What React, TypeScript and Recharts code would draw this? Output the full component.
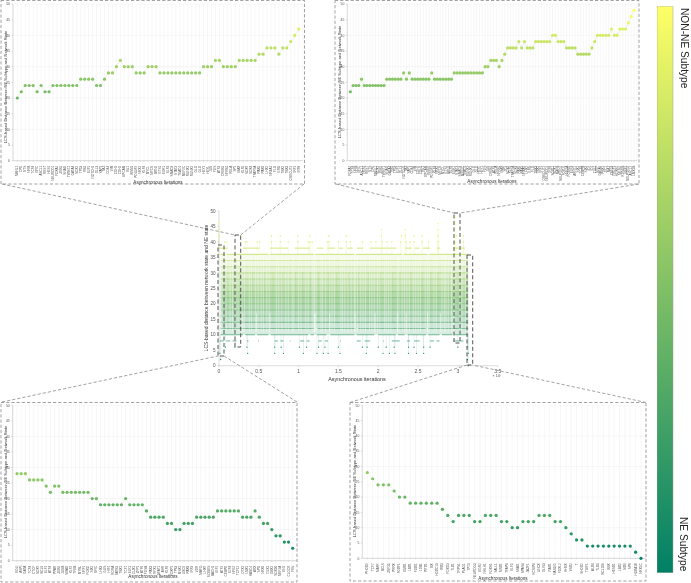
import React from "react";
import {
  LineChart, Line, XAxis, YAxis, CartesianGrid, ComposedChart, Scatter,
  ReferenceLine, ReferenceArea, BarChart, Bar,
} from "recharts";

const FONT = "'Liberation Sans', Arial, sans-serif";

// ---------- panel data ----------
const topLeftLabels = `MBNL1 CPE NTS NFIB TCF4 MYC ASCL1 REST HES1 NEUROD1
FOXA2 ZEB1 SNAI2 TWIST1 GATA4 SOX2 TP53 RB1 E2F1 NOTCH1
DLL3 YAP1 TAZ CD44 VIM CDH1 CDH2 EPCAM ISL1 INSM1
POU3F2 NKX2 KLF4 MYCL MYCN BRN2 ETS1 EGR1 ELF3 SMAD3
STAT3 TEAD1 MEF2C RUNX1 RUNX2 GLI1 GLI2 HEY1 HEYL JUN
FOS ATF3 CREB1 NFKB1 RELA SP1 MAX KLF5 SOX9 SOX4
TFAP2A PAX5 PAX6 LHX2 NR4A1 FLI1 ERG TBX2 TBX3 ONECUT2
IRF1 IRF8`.split(/\s+/);
const topLeftValues = [
  20, 22, 24, 24, 24, 22, 24, 22, 22, 24,
  24, 24, 24, 24, 24, 24, 26, 26, 26, 26,
  24, 24, 26, 28, 28, 30, 32, 30, 30, 30,
  28, 28, 28, 30, 30, 30, 28, 28, 28, 28,
  28, 28, 28, 28, 28, 28, 28, 30, 30, 30,
  32, 32, 30, 30, 30, 30, 32, 32, 32, 32,
  32, 34, 34, 36, 36, 36, 34, 36, 36, 38,
  40, 42,
];

const topRightLabels = `FOXA2 TCF4 NFIB MYC ASCL1 HES1 REST NTS CPE MBNL1
SOX2 ZEB1 TWIST1 SNAI2 GATA4 RB1 TP53 E2F1 DLL3 NOTCH1
TAZ YAP1 CD44 VIM CDH2 CDH1 ISL1 EPCAM INSM1 POU3F2
KLF4 NKX2 MYCN MYCL ETS1 BRN2 ELF3 EGR1 STAT3 SMAD3
MEF2C TEAD1 RUNX2 RUNX1 GLI2 GLI1 HEYL HEY1 FOS JUN
CREB1 ATF3 RELA NFKB1 MAX SP1 SOX9 KLF5 TFAP2A SOX4
PAX6 PAX5 NR4A1 LHX2 ERG FLI1 TBX3 TBX2 IRF1 ONECUT2
NEUROD1 IRF8 SOX11 SOX1 MAFB NEUROG1 FOXJ1 HNF1A FOXM1 ELK4
ARNT2 SIX1 TCF3 CEBPB SIX3 ID2 ID1 TLE1 MITF GATA6
PBX1 ZIC2 MAZ ZNF24 NR2F1 HOXB7 MEIS2 KDM5B EBF1 NEUROG2
ASCL2 LMX1B`.split(/\s+/);
const topRightValues = [
  22, 24, 24, 24, 26, 24, 24, 24, 24, 24,
  24, 24, 24, 26, 26, 26, 26, 26, 26, 28,
  26, 28, 26, 26, 26, 26, 26, 26, 26, 28,
  26, 26, 26, 26, 26, 26, 26, 28, 28, 28,
  28, 28, 28, 28, 28, 28, 28, 28, 30, 30,
  32, 32, 32, 30, 32, 34, 36, 36, 36, 36,
  38, 36, 38, 36, 36, 36, 38, 38, 38, 38,
  38, 38, 40, 40, 38, 38, 38, 36, 36, 36,
  36, 34, 34, 34, 34, 34, 36, 38, 40, 40,
  40, 40, 40, 42, 40, 40, 42, 42, 42, 44,
  46, 48,
];

const bottomLeftLabels = `EGLI ASPI GATA TCF4 CTCF SOX9 BCL6 ELF1 ATF4 PPAR
ZEB2 JUNB SMAD KLF2 TFEB MYBL NRF1 FOXO SIX2 NFIC
LHX3 GLIS HIF1 RORA SATB1 TBX1 TCF7 ELK1 CUX1 ZFP1
ATF6 FOSB PAX3 RFX1 NFAT1 AHR KLF6 FOXP1 TP63 MSX1
LMO2 PAX8 IRF3 VDR MAFG LHX9 EOMES BACH1 LEF1 ATF2
CEBPD E2F4 NFE2 TCF12 OTX2 LMX1 HAND1 ARX SPI1 NKX6
DLX1 GBX2 SOX10 MEF2A EN1 CLOCK FEV`.split(/\s+/);
const bottomLeftValues = [
  28, 28, 28, 26, 26, 26, 26, 24, 22, 24,
  24, 22, 22, 22, 22, 22, 22, 22, 20, 20,
  18, 18, 18, 18, 18, 18, 20, 18, 18, 18,
  18, 16, 14, 14, 14, 14, 12, 12, 10, 10,
  12, 12, 12, 14, 14, 14, 14, 14, 16, 16,
  16, 16, 16, 16, 14, 14, 14, 16, 14, 12,
  12, 10, 8, 8, 6, 6, 4,
];

const bottomRightLabels = `PHOX2 TCF7 MAFK BCL6 ZNF35 PRRX FOXF1 EMX1 LBX1 FOXI1
LDB1 PITX1 ISX HOXC13 IRX3 FOXD3 TLX1 TRPS1 PLAG1 TP73
NEUROG3 EGR2 NHLH1 FOXH1 SALL1 MNX1 TFAP4 ELF5 SNAI1 NPAS4
JAZF1 KCNIP4 UNCX GLIS3 RAX1 NANOG FOXL2 HHEX VSX2 T
SHOX2 TGIF1 ALX4 TLX3 BCL11B BSX HESX1 LBX2 SIX6 SP8
HOXA10 NKX2C`.split(/\s+/);
const bottomRightValues = [
  28, 26, 24, 24, 24, 22, 20, 20, 18, 18,
  18, 18, 18, 18, 16, 14, 12, 14, 14, 14,
  12, 12, 14, 14, 14, 12, 12, 10, 10, 12,
  12, 12, 14, 14, 14, 12, 12, 10, 8, 6,
  6, 4, 4, 4, 4, 4, 4, 4, 4, 4,
  2, 0,
];

// ---------- centre chart data (x in units of 10^7 iterations) ----------
const centreXTicks = [0, 0.5, 1, 1.5, 2, 2.5, 3, 3.5];
const distanceTicks = [0, 5, 10, 15, 20, 25, 30, 35, 40, 45, 50];
const bandLevels = [10, 12, 14, 16, 18, 20, 22, 24, 26, 28, 30, 32, 34];
const fullRows = [14, 16, 18, 20, 22, 24, 26, 28, 30, 32, 34];
const rowRuns36 = [[0.02, 0.08], [0.1, 0.62], [0.64, 1.19], [1.21, 1.7], [1.72, 2.3], [2.32, 2.62], [2.64, 3.13]];
const rowRuns38 = [[0, 0.11], [0.3, 0.51], [0.64, 0.87], [0.95, 1.14], [1.23, 1.31], [1.36, 1.46], [1.5, 1.56], [1.61, 1.68], [1.73, 1.81], [1.9, 2.23], [2.34, 2.42], [2.46, 2.52], [2.56, 2.65], [2.74, 2.78], [2.94, 3.09]];
const rowRuns12 = [[0.02, 1.2], [1.24, 1.72], [1.75, 2.6], [2.63, 3.13]];
const rowRuns10 = [[0.02, 0.3], [0.33, 0.45], [0.48, 0.62], [0.65, 1.12], [1.15, 1.19], [1.23, 1.35], [1.4, 1.7], [1.73, 1.95], [2.0, 2.22], [2.25, 2.33], [2.37, 2.6], [2.63, 2.77], [2.8, 2.93], [2.96, 3.13]];
const rowRuns8 = [[0.01, 0.06], [0.09, 0.14], [0.17, 0.22], [0.35, 0.37], [0.49, 0.5], [0.7, 0.74], [0.77, 0.81], [0.89, 0.9], [1.02, 1.07], [1.1, 1.14], [1.25, 1.29], [1.33, 1.37], [1.52, 1.53], [1.73, 1.78], [1.83, 1.9], [2.06, 2.07], [2.17, 2.27], [2.36, 2.4], [2.45, 2.52], [2.65, 2.7], [2.73, 2.77], [2.94, 3.07]];
const points48 = [2.97];
const points46 = [0, 2.75, 2.96];
const points44 = [0, 2.04, 2.34, 2.75];
const points42 = [0, 0.27, 0.66, 0.77, 0.99, 1.14, 1.38, 1.6, 2.04, 2.29, 2.34, 2.45, 2.55, 2.75, 2.98, 3.07];
const points40 = [0.07, 0.1, 0.33, 0.35, 0.48, 0.51, 0.66, 0.77, 0.87, 0.99, 1.12, 1.14, 1.17, 1.36, 1.38, 1.5, 1.6, 1.65, 1.8, 1.91, 1.97, 2.05, 2.11, 2.17, 2.28, 2.35, 2.4, 2.45, 2.55, 2.63, 2.75, 2.96, 3.07];
const points6 = [0.08, 0.2, 0.35, 0.7, 0.78, 1.01, 1.1, 1.25, 1.33, 1.5, 1.8, 1.86, 2.0, 2.1, 2.2, 2.38, 2.45, 2.57, 2.65, 3.0, 3.12];
const points4 = [0.01, 0.36, 0.7, 0.81, 1.06, 1.23, 1.31, 1.37, 1.52, 1.85, 2.06, 2.14, 2.21, 2.38, 2.48, 2.57, 3.13];
const points2 = [0.02, 3.12];
const points0 = [3.13];
const paleStreaks = [
  0.03, 0.05, 0.09, 0.14, 0.17, 0.21, 0.24, 0.29, 0.32, 0.38, 0.41, 0.46, 0.49, 0.53, 0.56, 0.6, 0.63,
  0.72, 0.75, 0.79, 0.84, 0.87, 0.92, 0.94, 1.0, 1.03, 1.09, 1.12, 1.17, 1.19, 1.2, 1.22, 1.28, 1.3, 1.34,
  1.39, 1.42, 1.45, 1.53, 1.55, 1.58, 1.62, 1.66, 1.7, 1.71, 1.74, 1.78, 1.81, 1.84, 1.89, 1.92, 1.95, 1.99,
  2.02, 2.08, 2.1, 2.13, 2.16, 2.24, 2.26, 2.3, 2.33, 2.36, 2.39, 2.44, 2.47, 2.5, 2.53, 2.59, 2.62, 2.64,
  2.7, 2.73, 2.8, 2.83, 2.85, 2.88, 2.92, 2.95, 3.02, 3.05, 3.1,
];
const clearGaps = [0.3, 0.47, 0.64, 1.2, 1.21, 1.39, 1.71, 1.96, 2.24, 2.35, 2.62, 2.78, 2.94];
const denseStreaks = [0.1, 0.25, 0.42, 0.57, 0.68, 0.8, 0.96, 1.05, 1.15, 1.25, 1.38, 1.48, 1.63, 1.75, 1.88, 2.03, 2.18, 2.27, 2.41, 2.55, 2.66, 2.75, 2.89, 3.0];

const colourStops = { top: "#FFFF66", bottom: "#008066" };
function summer(v: number) {
  const t = Math.max(0, Math.min(1, v / 48));
  return `rgb(${Math.round(255 * t)},${Math.round(128 + 127 * t)},102)`;
}

const rows = [
  ...fullRows.map((v) => ({ v, runs: [[0.02, 3.13]] })),
  { v: 36, runs: rowRuns36 }, { v: 38, runs: rowRuns38 },
  { v: 12, runs: rowRuns12 }, { v: 10, runs: rowRuns10 }, { v: 8, runs: rowRuns8 },
];
const upper = [
  { v: 48, xs: points48 }, { v: 46, xs: points46 }, { v: 44, xs: points44 },
  { v: 42, xs: points42 }, { v: 40, xs: points40 },
];
const lower = [{ v: 6, xs: points6 }, { v: 4, xs: points4 }, { v: 2, xs: points2 }, { v: 0, xs: points0 }];
const scatterData = [...upper, ...lower].flatMap((g) => g.xs.map((x) => ({ x, y: g.v })));

// ---------- geometry ----------
type Geo = { l: number; t: number; w: number; h: number; pl: number; pr: number; pt: number; pb: number; pad: number };
const tlGeo: Geo = { l: 0, t: 0, w: 305, h: 186, pl: 13, pr: 303, pt: 4, pb: 160.7, pad: 4.3 };
const trGeo: Geo = { l: 335, t: 0, w: 305, h: 186, pl: 347.3, pr: 637, pt: 4, pb: 160.7, pad: 3 };
const blGeo: Geo = { l: 0, t: 402, w: 298, h: 180, pl: 12.7, pr: 297, pt: 405.3, pb: 560.7, pad: 4.3 };
const brGeo: Geo = { l: 350, t: 402, w: 296, h: 180, pl: 362.3, pr: 646, pt: 405.3, pb: 558.3, pad: 5 };

const boxes = [
  { x: 1, y: 0.5, w: 303.5, h: 183.5 },
  { x: 335, y: 0.5, w: 304, h: 183.5 },
  { x: 1, y: 402.5, w: 296, h: 179.5 },
  { x: 350, y: 402.5, w: 296, h: 178.5 },
];
const marks = [
  { x: 218, y: 245, w: 6, h: 111 },
  { x: 235, y: 235, w: 5.7, h: 112 },
  { x: 454, y: 213, w: 6, h: 130 },
  { x: 467, y: 255, w: 5.7, h: 110 },
];
const connectors = [
  [2, 184, 235, 235], [304, 184, 240.7, 235],
  [336, 184, 454, 213], [639, 184, 460, 213],
  [2, 402, 218, 356], [297, 402, 224, 356],
  [350, 402.5, 467, 365], [646, 402.5, 472.7, 365],
];

const distanceTitle = "LCS-based Distance Between NE Subtype and Network State";
const iterationTitle = "Asynchronous Iterations";
const panelTitles = [
  { xt: 158, yt: 183.5, xl: 6.5, yl: 87 },
  { xt: 492, yt: 183, xl: 341, yl: 82 },
  { xt: 153, yt: 578, xl: 6.5, yl: 482 },
  { xt: 503, yt: 580, xl: 356, yl: 481 },
];

function Panel({ geo, labels, values }: any) {
  const data = labels.map((label: string, i: number) => ({ label, value: values[i] }));
  const tick = ({ x, y, payload }: any) => (
    <text x={x} y={y + 2} transform={`rotate(-90 ${x} ${y + 2})`} textAnchor="end" dominantBaseline="central"
      fontSize={3.1} fill="#555" fontFamily={FONT}>{payload.value}</text>
  );
  const dot = (p: any) => (
    <circle key={p.index} cx={p.cx} cy={p.cy} r={1.6} fill={summer(p.payload.value)} />
  );
  return (
    <div style={{ position: "absolute", left: geo.l, top: geo.t }}>
      <LineChart width={geo.w} height={geo.h} data={data}
        margin={{ top: geo.pt - geo.t, right: geo.l + geo.w - geo.pr, bottom: 0, left: 0 }}>
        <CartesianGrid stroke="#eeeeee" strokeWidth={0.5} />
        <XAxis dataKey="label" interval={0} tick={tick} tickSize={1} stroke="#bbb" strokeWidth={0.5}
          padding={{ left: geo.pad, right: geo.pad }} height={geo.t + geo.h - geo.pb} />
        <YAxis domain={[0, 50]} ticks={distanceTicks} width={geo.pl - geo.l} tickSize={1.5} stroke="#bbb" strokeWidth={0.5}
          tick={{ fontSize: 3.4, fill: "#555", fontFamily: FONT, dx: 0.5 }} />
        <Line dataKey="value" stroke="#9ccf7c" strokeOpacity={0.4} strokeWidth={0.5} dot={dot} isAnimationActive={false} />
      </LineChart>
    </div>
  );
}

function Centre() {
  const L = 200, T = 205, W = 305, H = 180;
  const pl = 219, pr = 497.7, pt = 211, pb = 365.7;
  const dotShape = (p: any) => <circle cx={p.cx} cy={p.cy} r={0.65} fill={summer(p.payload.y)} />;
  return (
    <div style={{ position: "absolute", left: L, top: T }}>
      <ComposedChart width={W} height={H} data={scatterData}
        margin={{ top: pt - T, right: L + W - pr, bottom: 0, left: 0 }}>
        <XAxis type="number" dataKey="x" domain={[0, 3.5]} ticks={centreXTicks} tickSize={1.5} stroke="#bbb" strokeWidth={0.5}
          height={T + H - pb} tick={{ fontSize: 5, fill: "#555", fontFamily: FONT }} />
        <YAxis type="number" dataKey="y" domain={[0, 50]} ticks={distanceTicks} width={pl - L} tickSize={1.5} stroke="#bbb" strokeWidth={0.5}
          tick={{ fontSize: 4.6, fill: "#555", fontFamily: FONT }} />
        {bandLevels.map((v) => (
          <ReferenceArea key={v} x1={0.02} x2={3.13} y1={v} y2={v + 2} fill={summer(v + 1)} stroke="none"
            fillOpacity={0.1 + 0.5 * Math.max(0, 1 - Math.abs(v + 1 - 22) / 14)} />
        ))}
        {denseStreaks.map((x) => (
          <ReferenceLine key={"d" + x} segment={[{ x, y: 14 }, { x, y: 30 }]} stroke="#7cc068" strokeOpacity={0.2} strokeWidth={0.8} />
        ))}
        {upper.flatMap((g) => g.xs.map((x, i) => (
          <ReferenceLine key={`u${g.v}-${i}`} segment={[{ x, y: 36 }, { x, y: g.v }]} stroke={summer(g.v)} strokeOpacity={0.22} strokeWidth={0.7} />
        )))}
        {lower.flatMap((g) => g.xs.map((x, i) => (
          <ReferenceLine key={`l${g.v}-${i}`} segment={[{ x, y: 10 }, { x, y: g.v }]} stroke={summer(g.v)} strokeOpacity={0.18} strokeWidth={0.6} />
        )))}
        {rows.flatMap((r) => r.runs.map((run, i) => (
          <ReferenceLine key={`r${r.v}-${i}`} segment={[{ x: run[0], y: r.v }, { x: run[1], y: r.v }]}
            stroke={summer(r.v)} strokeOpacity={r.v < 12 ? 0.75 : r.v > 35 ? 0.95 : 0.6} strokeWidth={r.v > 35 || r.v < 12 ? 0.9 : 1.05} />
        )))}
        {paleStreaks.map((x) => (
          <ReferenceLine key={"p" + x} segment={[{ x, y: 10.8 }, { x, y: 35.5 }]} stroke="#fff" strokeOpacity={0.42} strokeWidth={0.9} />
        ))}
        {clearGaps.map((x) => (
          <ReferenceLine key={"g" + x} segment={[{ x, y: 10.8 }, { x, y: 17 }]} stroke="#fff" strokeOpacity={0.5} strokeWidth={1} />
        ))}
        <Scatter dataKey="y" shape={dotShape} isAnimationActive={false} />
      </ComposedChart>
    </div>
  );
}

function ColourBar() {
  return (
    <div style={{ position: "absolute", left: 657.3, top: 6 }}>
      <BarChart width={16.4} height={567} data={[{ name: "subtype", extent: 48 }]} margin={{ top: 0, right: 0, bottom: 0, left: 0 }} barCategoryGap={0}>
        <defs>
          <linearGradient id="summerGrad" x1="0" y1="0" x2="0" y2="1">
            <stop offset="0%" stopColor={colourStops.top} />
            <stop offset="100%" stopColor={colourStops.bottom} />
          </linearGradient>
        </defs>
        <XAxis dataKey="name" hide />
        <YAxis domain={[0, 48]} hide />
        <Bar dataKey="extent" fill="url(#summerGrad)" stroke="#a0a090" strokeWidth={0.5} isAnimationActive={false} />
      </BarChart>
    </div>
  );
}

function Overlay() {
  const dash = { fill: "none", stroke: "#8a8a8a", strokeWidth: 0.8, strokeDasharray: "3.2 2" };
  return (
    <svg width={691} height={583} style={{ position: "absolute", left: 0, top: 0, pointerEvents: "none" }}>
      {boxes.map((b, i) => <rect key={i} x={b.x} y={b.y} width={b.w} height={b.h} {...dash} />)}
      {connectors.map((c, i) => <line key={i} x1={c[0]} y1={c[1]} x2={c[2]} y2={c[3]} {...dash} />)}
      {marks.map((m, i) => (
        <rect key={i} x={m.x} y={m.y} width={m.w} height={m.h} fill="none" stroke="#555" strokeWidth={1} strokeDasharray="4 2.5" />
      ))}
      {panelTitles.map((p, i) => (
        <g key={i} fontFamily={FONT} fill="#333" textAnchor="middle">
          <text x={p.xt} y={p.yt} fontSize={4.6}>{iterationTitle}</text>
          <text transform={`translate(${p.xl} ${p.yl}) rotate(-90)`} fontSize={4.1}>{distanceTitle}</text>
        </g>
      ))}
      <text x={357} y={381} fontSize={5.4} fill="#333" fontFamily={FONT} textAnchor="middle">Asynchronous iterations</text>
      <text transform="translate(207.5 288) rotate(-90)" fontSize={5} fill="#333" fontFamily={FONT} textAnchor="middle">LCS-based distance between network state and NE state</text>
      <text x={497} y={377} fontSize={3.8} fill="#555" fontFamily={FONT} textAnchor="middle">× 10⁷</text>
      <text transform="translate(681 8) rotate(90)" fontSize={10.2} fill="#222" fontFamily={FONT}>NON-NE Subtype</text>
      <text transform="translate(680 517) rotate(90)" fontSize={10.2} fill="#222" fontFamily={FONT}>NE Subtype</text>
    </svg>
  );
}

export default function App() {
  return (
    <div style={{ position: "absolute", left: 0, top: 0, width: 691, height: 583, background: "#fff", overflow: "hidden", filter: "blur(0.3px)" }}>
      <Panel geo={tlGeo} labels={topLeftLabels} values={topLeftValues} />
      <Panel geo={trGeo} labels={topRightLabels} values={topRightValues} />
      <Panel geo={blGeo} labels={bottomLeftLabels} values={bottomLeftValues} />
      <Panel geo={brGeo} labels={bottomRightLabels} values={bottomRightValues} />
      <Centre />
      <ColourBar />
      <Overlay />
    </div>
  );
}
